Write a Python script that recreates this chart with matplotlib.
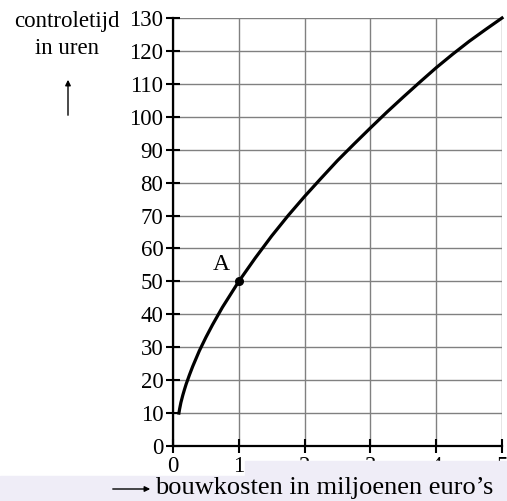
import numpy as np
import matplotlib.pyplot as plt
from matplotlib.patches import Rectangle, FancyArrowPatch

# values
bouwkosten = [0.09, 0.1, 0.12, 0.15, 0.175, 0.2, 0.25, 0.3, 0.4, 0.5, 0.6, 0.75, 1.0, 1.25,
              1.5, 1.75, 2.0, 2.25, 2.5, 2.75, 3.0, 3.25, 3.5, 3.75, 4.0, 4.25, 4.5, 4.75, 5.0]
controletijd = [10.0, 11.2, 13.2, 15.5, 17.2, 18.8, 21.6, 24.2, 28.9, 33.0, 36.8, 42.1, 50.0, 57.1,
                63.8, 70.0, 75.8, 81.3, 86.7, 91.7, 96.6, 101.4, 106.0, 110.5, 114.9, 119.0, 122.9,
                126.5, 130.0]
punt_A = (1, 50)
x_ticks = [0, 1, 2, 3, 4, 5]
y_ticks = list(range(0, 131, 10))

plt.rcParams['font.family'] = ['Liberation Serif', 'DejaVu Serif']

fig = plt.figure(figsize=(5.07, 5.01), dpi=100)
ax = fig.add_axes([173/507, 55/501, 329/507, 428/501])

ax.set_xlim(0, 5)
ax.set_ylim(0, 130)
ax.set_xticks(x_ticks)
ax.set_yticks(y_ticks)
ax.grid(True, color='#808080', lw=1.0)
ax.set_axisbelow(True)

for s in ['top', 'right']:
    ax.spines[s].set_visible(False)
for s in ['left', 'bottom']:
    ax.spines[s].set_linewidth(1.6)
    ax.spines[s].set_zorder(5)
ax.tick_params(direction='inout', length=10, width=1.5, labelsize=16.5, pad=2)

ax.plot(bouwkosten, controletijd, color='black', lw=2.3, zorder=4, clip_on=False)
ax.plot(*punt_A, 'o', color='black', ms=5.5, zorder=6)
ax.text(0.74, 55, 'A', fontsize=17, ha='center', va='center')

# y-axis label with arrow
fig.text(67/507, 1 - 22/501, 'controletijd', fontsize=16.5, ha='center', va='center')
fig.text(67/507, 1 - 48/501, 'in uren', fontsize=16.5, ha='center', va='center')
fig.add_artist(FancyArrowPatch((68/507, 1 - 118/501), (68/507, 1 - 77/501),
                               transform=fig.transFigure, arrowstyle='-|>',
                               mutation_scale=8, color='black', lw=1))

# lavender band at the bottom
fig.add_artist(Rectangle((0, 0), 1, 25/501, transform=fig.transFigure,
                         color='#efedf7', zorder=10))
fig.add_artist(Rectangle((245/507, 25/501), 262/507, 15/501, transform=fig.transFigure,
                         color='#efedf7', zorder=10))

# x-axis label with arrow
fig.add_artist(FancyArrowPatch((110/507, 1 - 489/501), (153/507, 1 - 489/501),
                               transform=fig.transFigure, arrowstyle='-|>',
                               mutation_scale=8, color='black', lw=1, zorder=11))
fig.text(155/507, 1 - 488/501, 'bouwkosten in miljoenen euro\u2019s', fontsize=19,
         ha='left', va='center', zorder=11)

fig.savefig('out.png', dpi=100)
